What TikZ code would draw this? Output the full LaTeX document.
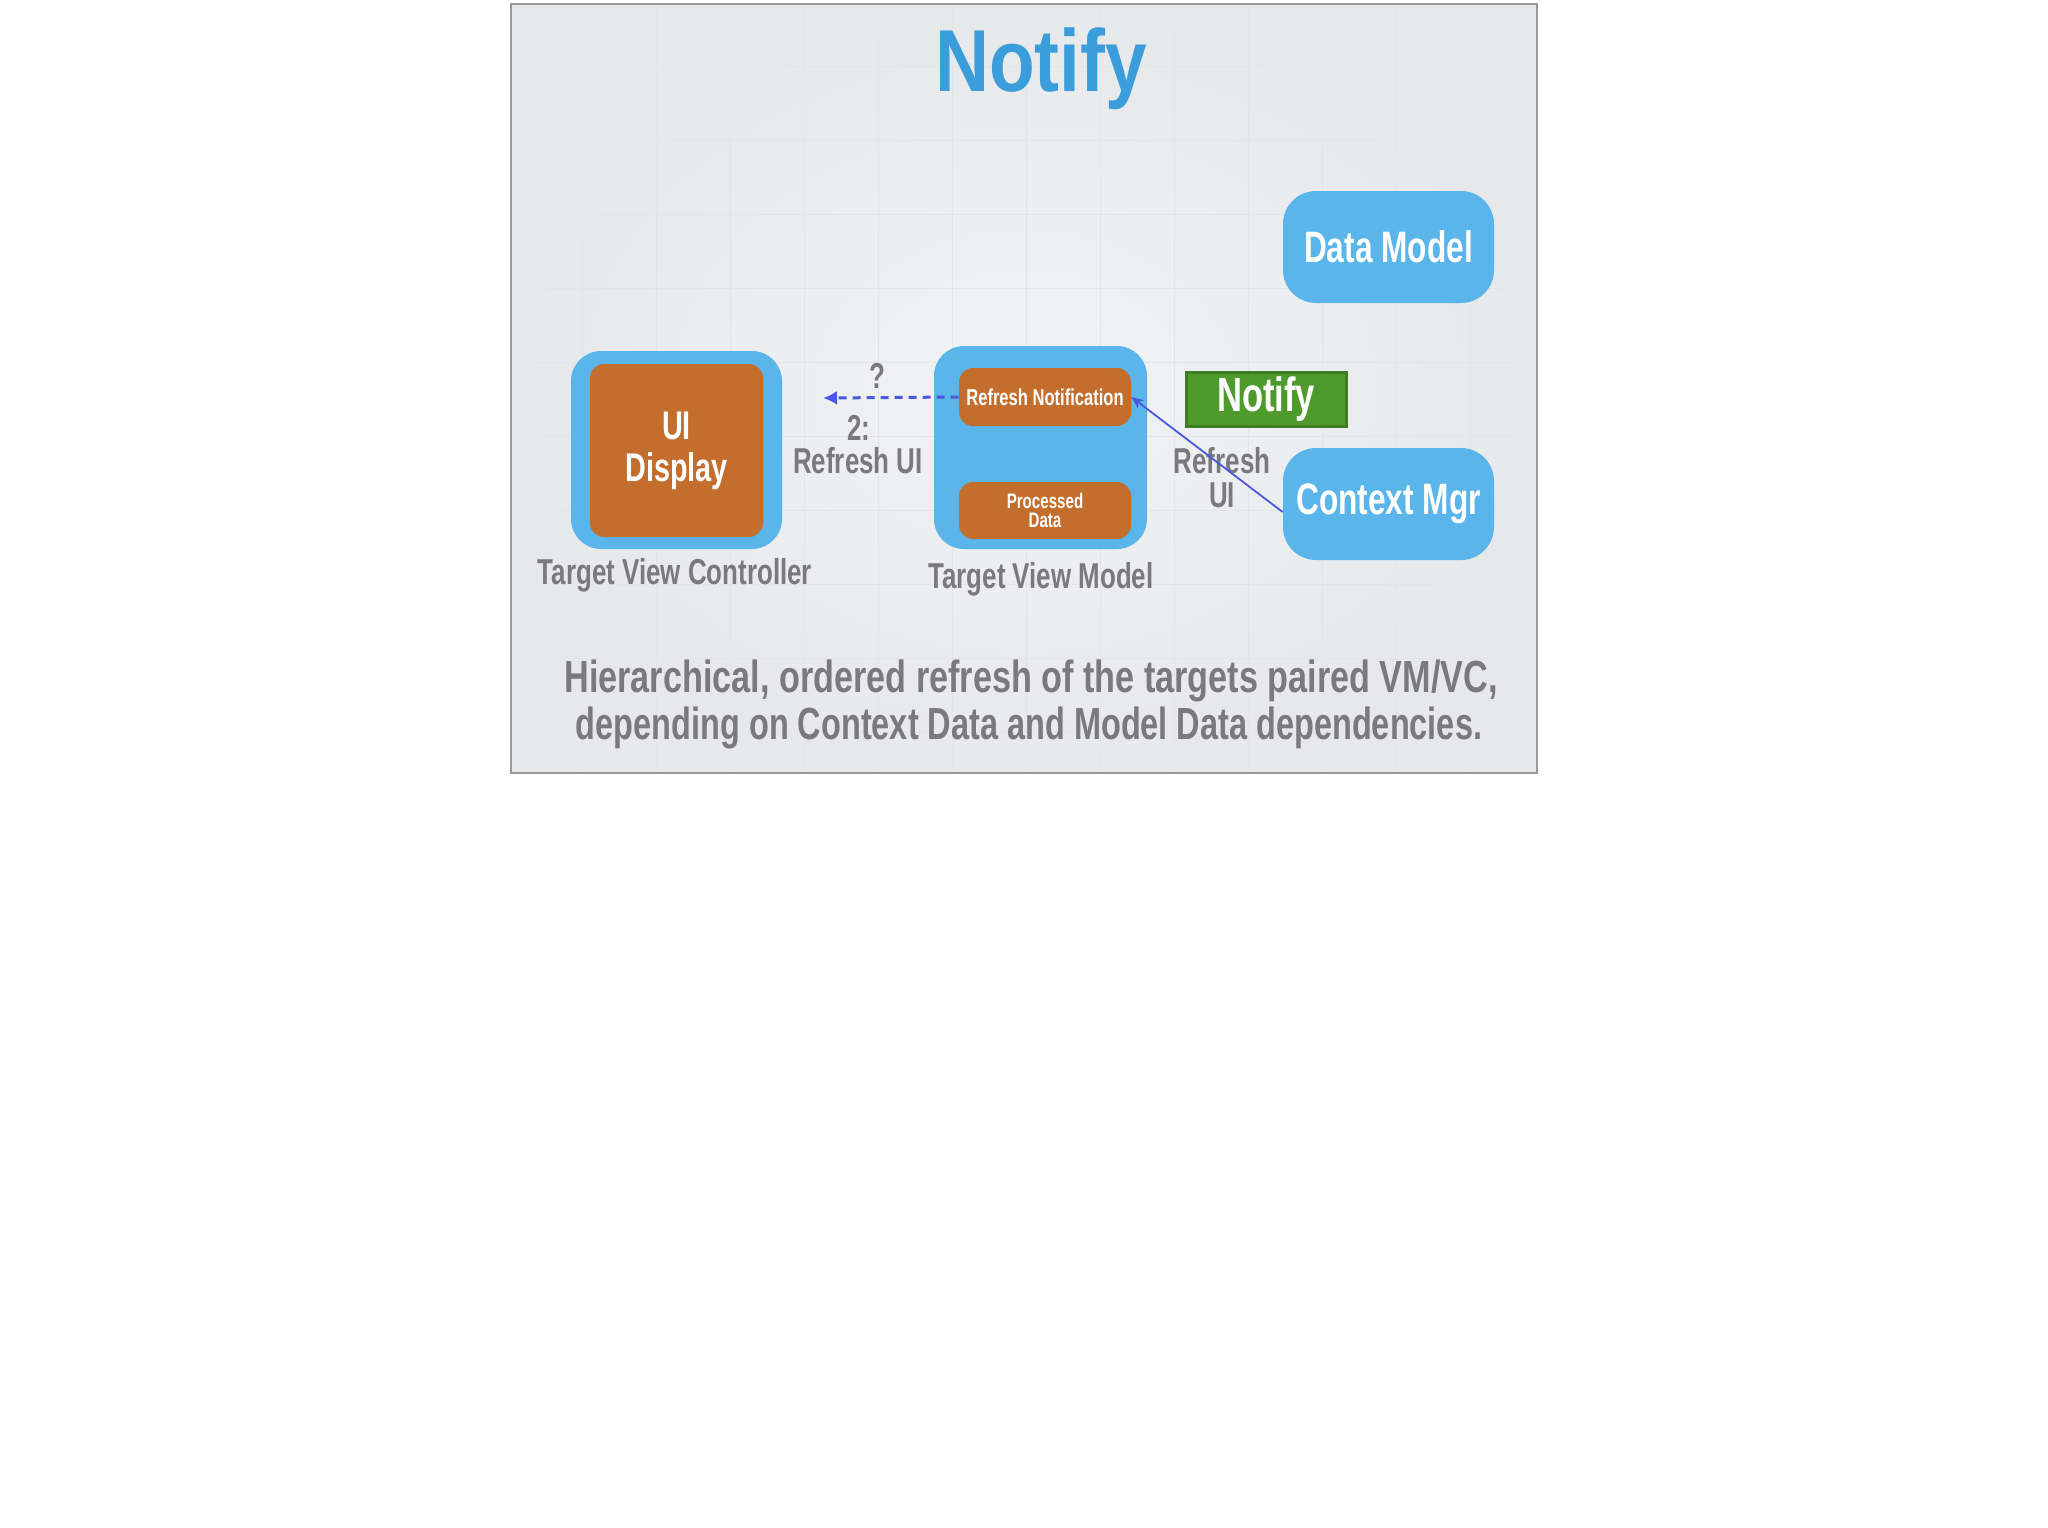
\documentclass[tikz,border=0pt]{standalone}
\usepackage{fontspec}
\usetikzlibrary{arrows.meta}
\newfontfamily\hand[FakeStretch=0.72]{Liberation Sans}
\newfontfamily\handc[FakeStretch=0.76]{Liberation Sans}
\newfontfamily\handt[FakeStretch=0.85]{Liberation Sans}
\definecolor{slidebgin}{HTML}{F2F3F4}
\definecolor{slidebgout}{HTML}{E7E8EA}
\definecolor{gridc}{HTML}{E4E5E8}
\definecolor{slideborder}{HTML}{9A9A9C}
\definecolor{boxblue}{HTML}{5AB5EA}
\definecolor{orangebox}{HTML}{C46E2E}
\definecolor{notegreen}{HTML}{4E9A2D}
\definecolor{greendark}{HTML}{3E7D24}
\definecolor{graytext}{HTML}{7A7A7C}
\definecolor{titleblue}{HTML}{3B9EDB}
\definecolor{arrowblue}{HTML}{4B58E0}
\tikzset{
  bluebox/.style={fill=boxblue, rounded corners=16.5pt, minimum width=105.5pt, minimum height=56pt, inner sep=0pt, text=white, font=\hand\bfseries\fontsize{22}{26}\selectfont},
  outerbox/.style={fill=boxblue, rounded corners=15pt, inner sep=0pt},
  orbox/.style={fill=orangebox, rounded corners=7pt, inner sep=0pt, text=white, align=center},
  graylabel/.style={text=graytext, font=\hand\bfseries\fontsize{18}{17}\selectfont, anchor=base, inner sep=0pt},
  caption/.style={text=graytext, font=\handc\bfseries\fontsize{22.5}{22}\selectfont, anchor=base, inner sep=0pt},
  dasharrow/.style={draw=arrowblue, line width=1.5pt, dash pattern=on 4pt off 3pt, -{Latex[length=7pt,width=7pt]}},
  solidarrow/.style={draw=arrowblue, line width=0.9pt, -{Stealth[length=6pt,width=5pt]}}
}
\begin{document}
\begin{tikzpicture}[x=0.5pt,y=-0.5pt]
\useasboundingbox (0,0) rectangle (2048,1527);
\fill[white] (0,0) rectangle (2048,1527);
% slide background
\shade[inner color=slidebgin, outer color=slidebgout] (511,4) rectangle (1537,773);
\foreach \gx in {582,656,730,804,878,952,1026,1100,1174,1248,1322,1396,1470}
  \draw[gridc, line width=0.5pt] (\gx,4) -- (\gx,773);
\foreach \gy in {66,140,214,288,362,436,510,584,658,732}
  \draw[gridc, line width=0.5pt] (511,\gy) -- (1537,\gy);
\draw[slideborder, line width=1pt] (511,4) rectangle (1537,773);

% title
\node[text=titleblue, font=\handt\bfseries\fontsize{44}{48}\selectfont, anchor=base, inner sep=0pt] (title) at (1041,91) {Notify};

% right boxes
\node[bluebox] (dm) at (1388.5,247) {Data Model};
\node[bluebox] (cm) at (1388.5,504) {Context Mgr};
\node[fill=notegreen, draw=greendark, line width=1.5pt, minimum width=80pt, minimum height=27pt, inner sep=0pt, text=white, font=\hand\bfseries\fontsize{24}{26}\selectfont] (nt) at (1266,399) {Notify};

% target view controller
\node[outerbox, minimum width=105.5pt, minimum height=99pt] (tvc) at (676.5,450) {};
\node[orbox, minimum width=86.5pt, minimum height=86.5pt, font=\hand\bfseries\fontsize{20}{21}\selectfont] (ui) at (676.5,450.5) {UI\\Display};

% target view model
\node[outerbox, minimum width=106.5pt, minimum height=101.5pt] (tvm) at (1040.5,447.5) {};
\node[orbox, minimum width=86pt, minimum height=29pt, font=\hand\bfseries\fontsize{11.5}{12}\selectfont] (rn) at (1045,397) {Refresh Notification};
\node[orbox, minimum width=86pt, minimum height=28.5pt, font=\hand\bfseries\fontsize{10.5}{9.8}\selectfont] (pd) at (1045,510.5) {Processed\\Data};

% labels
\node[graylabel] (lq) at (877,388) {?};
\node[graylabel] (l2) at (859,440) {2:};
\node[graylabel] (lr) at (858,473) {Refresh UI};
\node[graylabel] (rr1) at (1222,473) {Refresh};
\node[graylabel] (rr2) at (1222,507) {UI};
\node[graylabel] (ltvc) at (675,584) {Target View Controller};
\node[graylabel] (ltvm) at (1041,588) {Target View Model};

% caption
\node[caption] (cap1) at (1031,692) {Hierarchical, ordered refresh of the targets paired VM/VC,};
\node[caption] (cap2) at (1029,739) {\scalebox{0.95}[1]{depending on Context Data and Model Data dependencies.}};

% connectors
\coordinate (dtip) at (823,398);
\draw[dasharrow] (rn.west) -- (dtip);
\draw[solidarrow] ([yshift=-4pt]cm.west) -- (rn.east);
\end{tikzpicture}
\end{document}
